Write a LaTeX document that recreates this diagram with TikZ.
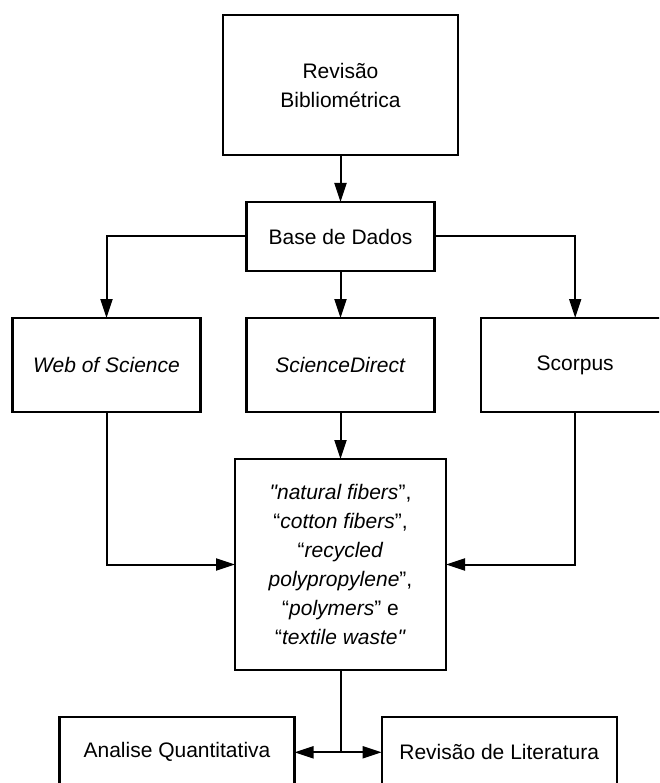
\documentclass[tikz,border=0pt]{standalone}
\usepackage{fontspec}
\setmainfont{Liberation Sans}
\usetikzlibrary{positioning,arrows.meta}

\begin{document}
\begin{tikzpicture}[x=1pt, y=-1pt, node distance=47pt, line width=2pt,
    box/.style={draw, rectangle, line width=2.2pt, inner sep=0pt, outer sep=0pt, align=center,
        font=\fontsize{21}{29}\selectfont},
    >={Triangle[length=19pt, width=12pt]}]
    \path[use as bounding box] (0,0) rectangle (659,783);
    \clip (0,0) rectangle (659,783);

    \node[box, minimum width=235pt, minimum height=140pt] (rev) at (340.5,85) {Revisão\\Bibliométrica};
    \node[box, minimum width=188pt, minimum height=69pt, below=of rev] (base) {Base de Dados};
    \node[box, minimum width=188pt, minimum height=94pt, below=of base] (sd) {\textit{ScienceDirect}};
    \node[box, minimum width=188pt, minimum height=94pt, left=46pt of sd] (web) {\textit{Web of Science}};
    \node[box, minimum width=188pt, minimum height=94pt, right=46.7pt of sd] (sco) {Scorpus};
    \node[box, minimum width=211pt, minimum height=211pt, below=of sd] (kw)
        {\textit{\textquotedbl natural fibers}”,\\“\textit{cotton fibers}”,\\“\textit{recycled}\\\textit{polypropylene}”,\\“\textit{polymers}” e\\“\textit{textile waste\textquotedbl}};
    \node[box, minimum width=235pt, minimum height=70pt] (ana) at (177,752.3) {Analise Quantitativa};
    \node[box, minimum width=235pt, minimum height=70pt] (lit) at (499.2,752.3) {Revisão de Literatura};
    \coordinate (split) at (kw.south |- ana.east);

    \draw[->] (rev) -- (base);
    \draw[->] (base) -- (sd);
    \draw[->] (base.west) -| (web);
    \draw[->] (base.east) -| (sco);
    \draw[->] (sd) -- (kw);
    \draw[->] (web) |- (kw);
    \draw[->] (sco) |- (kw);
    \draw (kw) -- (split);
    \draw[->] (split) -- (ana);
    \draw[->] (split) -- (lit);
\end{tikzpicture}
\end{document}
